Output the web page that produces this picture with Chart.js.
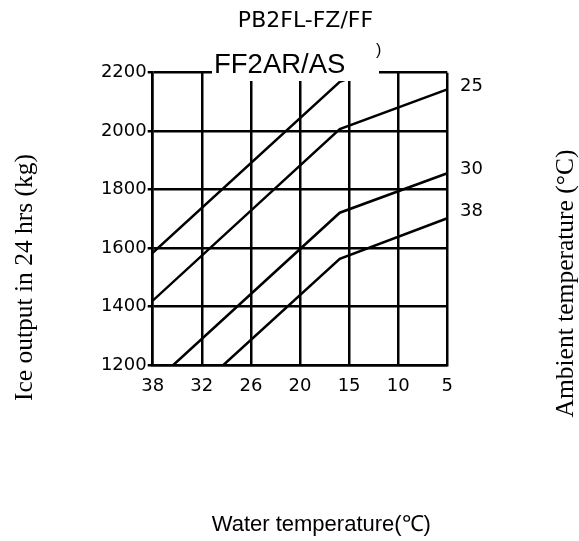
<!DOCTYPE html>
<html>
<head>
<meta charset="utf-8">
<script src="https://cdn.jsdelivr.net/npm/chart.js@4/dist/chart.umd.min.js"></script>
<style>
  html, body { margin: 0; padding: 0; background: #fff; }
  #c { display: block; }
</style>
</head>
<body>
<canvas id="c" width="579" height="541"></canvas>
<script>
// ---- data ----
const xTickLabels = ['38', '32', '26', '20', '15', '10', '5'];   // water temperature, equally spaced
const yTicks = [1200, 1400, 1600, 1800, 2000, 2200];

// x positions are category positions (0 = 38, 6 = 5)
const s1X = [0, 3.81, 6];     const s1Y = [1584, 2169, 2305];   // top curve (label hidden)
const s2X = [0, 3.81, 6];     const s2Y = [1420, 2007, 2143];   // 25
const s3X = [0.42, 3.81, 6];  const s3Y = [1200, 1721, 1856];   // 30
const s4X = [1.44, 3.81, 6];  const s4Y = [1200, 1563, 1702];   // 38

const endLabels = ['25', '30', '38'];
const endLabelValues = [2155, 1870, 1727];

const titleText = 'PB2FL-FZ/FF';
const subTitleText = 'FF2AR/AS';
const yTitle = 'Ice output in 24 hrs (kg)';
const rightTitle = 'Ambient temperature (\u00B0C)';
const xTitle = 'Water temperature(\u2103)';

function pts(xs, ys) { return xs.map((x, i) => ({ x: x, y: ys[i] })); }

const lineStyle = { borderColor: '#000', borderWidth: 2.5, pointRadius: 0, fill: false, tension: 0 };

const overlay = {
  id: 'overlay',
  afterDatasetsDraw(chart) {
    const ctx = chart.ctx;
    ctx.save();
    // white box hiding part of the top of the grid
    ctx.fillStyle = '#fff';
    ctx.fillRect(212, 36, 167, 45);
    ctx.restore();
  },
  afterDraw(chart) {
    const ctx = chart.ctx;
    const ys = chart.scales.y;
    ctx.save();
    ctx.fillStyle = '#000';
    // main title
    ctx.font = '22px "DejaVu Sans"';
    ctx.textAlign = 'center';
    ctx.textBaseline = 'alphabetic';
    ctx.fillText(titleText, 305.5, 27);
    // model text in white box
    ctx.font = '27.5px "Liberation Sans"';
    ctx.textAlign = 'left';
    ctx.fillText(subTitleText, 214, 72.5);
    ctx.font = '16px "Liberation Sans"';
    ctx.fillText(')', 376, 55);
    // end labels
    ctx.font = '18px "DejaVu Sans"';
    ctx.textBaseline = 'middle';
    endLabels.forEach((t, i) => {
      ctx.fillText(t, 460, ys.getPixelForValue(endLabelValues[i]));
    });
    // bottom title
    ctx.font = '22px "Liberation Sans"';
    ctx.textBaseline = 'alphabetic';
    ctx.textAlign = 'left';
    ctx.fillText(xTitle, 211.7, 530.7);
    // left title
    ctx.font = '25.5px "Liberation Serif"';
    ctx.textAlign = 'center';
    ctx.textBaseline = 'middle';
    ctx.save();
    ctx.translate(25, 277.5);
    ctx.rotate(-Math.PI / 2);
    ctx.fillText(yTitle, 0, 0);
    ctx.restore();
    // right title
    ctx.save();
    ctx.translate(566, 283.5);
    ctx.rotate(-Math.PI / 2);
    ctx.fillText(rightTitle, 0, 0);
    ctx.restore();
    ctx.restore();
  }
};

new Chart(document.getElementById('c'), {
  type: 'line',
  data: {
    datasets: [
      Object.assign({ data: pts(s1X, s1Y) }, lineStyle),
      Object.assign({ data: pts(s2X, s2Y) }, lineStyle),
      Object.assign({ data: pts(s3X, s3Y) }, lineStyle),
      Object.assign({ data: pts(s4X, s4Y) }, lineStyle)
    ]
  },
  options: {
    responsive: false,
    animation: false,
    devicePixelRatio: 1,
    layout: { padding: { left: 0, top: 72.7, right: 579 - 447.3, bottom: 0 } },
    plugins: { legend: { display: false }, tooltip: { enabled: false }, title: { display: false } },
    scales: {
      x: {
        type: 'linear', min: 0, max: 6,
        afterFit(s) { s.height = 541 - 365; },
        afterBuildTicks(s) { s.ticks = xTickLabels.map((_, i) => ({ value: i })); },
        ticks: {
          callback: (v) => xTickLabels[v],
          color: '#000', font: { family: 'DejaVu Sans', size: 18 }, padding: 11, maxRotation: 0, autoSkip: false
        },
        grid: { color: '#000', lineWidth: 2.5, drawTicks: false },
        border: { color: '#000', width: 2.5 }
      },
      y: {
        type: 'linear', min: 1200, max: 2200,
        afterFit(s) { s.width = 152.7; },
        afterBuildTicks(s) { s.ticks = yTicks.map(v => ({ value: v })); },
        ticks: {
          callback: (v) => String(v),
          color: '#000', font: { family: 'DejaVu Sans', size: 18 }, padding: 1
        },
        grid: { color: '#000', lineWidth: 2.5, drawTicks: true, tickLength: 5 },
        border: { color: '#000', width: 2.5 }
      }
    }
  },
  plugins: [overlay]
});
</script>
</body>
</html>
